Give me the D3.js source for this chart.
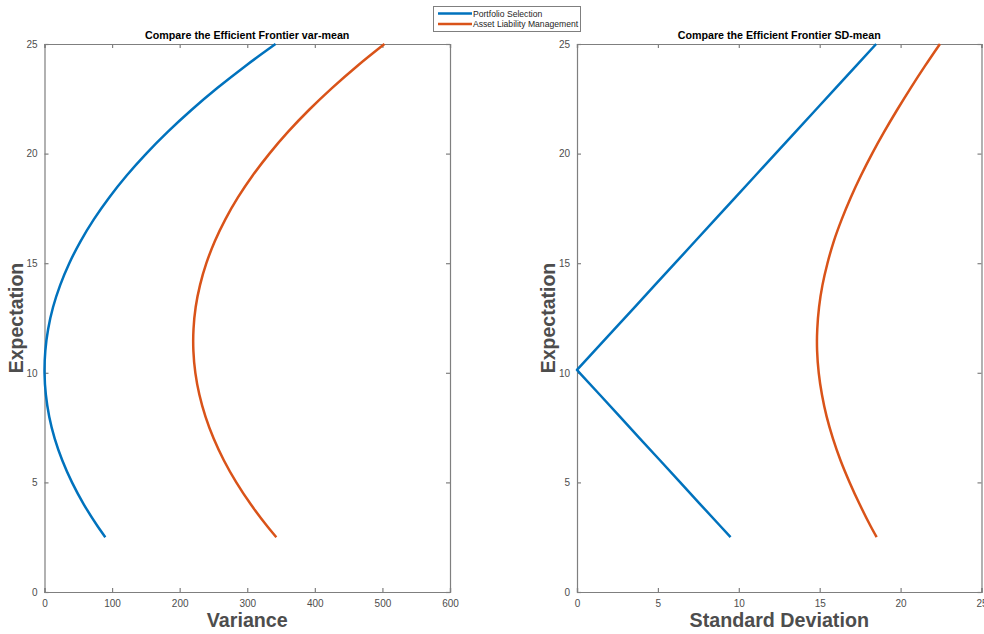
<!DOCTYPE html>
<html><head><meta charset="utf-8">
<script src="https://cdn.jsdelivr.net/npm/d3@7"></script>
<style>body{margin:0;background:#fff;} svg{display:block;font-family:"Liberation Sans",Arial,sans-serif;}</style>
</head><body>
<svg id="chart" width="984" height="634"></svg>
<script>
// Expected return values (y) at which the frontiers are read
const expectPS  = [2.5,3,4,5,6,7,8,9,10,10.13,11,12,13,14,15,16,17,18,19,20,21,22,23,24,25];
const expectALM = [2.5,3,4,5,6,7,8,9,10,11,11.44,12,13,14,15,16,17,18,19,20,21,22,23,24,25];
// Portfolio Selection
const varPS = [90.0,78.6,58.1,40.7,26.4,15.1,7.0,2.0,0.03,0,1.2,5.4,12.7,23.2,36.7,53.3,73.0,95.8,121.6,150.6,182.7,217.8,256.1,297.4,341.9];
const sdPS  = [9.49,8.87,7.62,6.38,5.14,3.89,2.65,1.41,0.16,0,1.08,2.33,3.57,4.81,6.06,7.30,8.54,9.79,11.03,12.27,13.52,14.76,16.00,17.25,18.49];
// Asset Liability Management
const varALM = [343.0,329.6,305.2,283.8,265.5,250.3,238.2,229.2,223.2,220.3,220.0,220.5,223.7,230.1,239.5,252.0,267.6,286.2,308.0,332.8,360.6,391.6,425.7,462.8,503.0];
const sdALM  = [18.52,18.15,17.47,16.85,16.29,15.82,15.43,15.14,14.94,14.84,14.83,14.85,14.96,15.17,15.48,15.87,16.36,16.92,17.55,18.24,18.99,19.79,20.63,21.51,22.43];

const seriesNames = ["Portfolio Selection","Asset Liability Management"];
const colors = ["#0072BD","#D95319"];
const yTicks = [0,5,10,15,20,25];
const xTicksVar = [0,100,200,300,400,500,600];
const xTicksSD = [0,5,10,15,20,25];

const svg = d3.select("#chart");
const axisColor = "#7f7f7f";
const labelColor = "#4d4d4d";
const plotTop = 44, plotBottom = 592;

function panel(opts){
  const g = svg.append("g");
  const x = d3.scaleLinear().domain(opts.xdom).range([opts.x0, opts.x1]);
  const y = d3.scaleLinear().domain([0,25]).range([plotBottom, plotTop]);
  const tl = 4;
  const ax = g.append("g").attr("transform",`translate(0,${plotBottom})`)
    .call(d3.axisBottom(x).tickValues(opts.xticks).tickSize(-tl).tickPadding(8).tickFormat(d3.format("d")));
  const axt = g.append("g").attr("transform",`translate(0,${plotTop})`)
    .call(d3.axisTop(x).tickValues(opts.xticks).tickSize(-tl).tickFormat(""));
  const ay = g.append("g").attr("transform",`translate(${opts.x0},0)`)
    .call(d3.axisLeft(y).tickValues(yTicks).tickSize(-tl).tickPadding(7).tickFormat(d3.format("d")));
  const ayr = g.append("g").attr("transform",`translate(${opts.x1},0)`)
    .call(d3.axisRight(y).tickValues(yTicks).tickSize(-tl).tickFormat(""));
  [ax,axt,ay,ayr].forEach(a=>{
    a.select(".domain").attr("stroke",axisColor).attr("stroke-width",1.2);
    a.selectAll(".tick line").attr("stroke",axisColor).attr("stroke-width",1.2);
    a.selectAll(".tick text").attr("fill",labelColor).attr("font-size",10).attr("font-family","Liberation Sans, Arial, sans-serif");
  });
  opts.series.forEach((s,i)=>{
    const line = d3.line().x(d=>x(d[0])).y(d=>y(d[1])).curve(s.curve);
    g.append("path").datum(s.x.map((v,k)=>[v,s.y[k]]))
      .attr("d",line).attr("fill","none").attr("stroke",colors[i]).attr("stroke-width",2.5)
      .attr("stroke-linejoin","round");
  });
  g.append("text").attr("x",(opts.x0+opts.x1)/2).attr("y",39).attr("text-anchor","middle")
    .attr("font-size",10.7).attr("font-weight","bold").attr("fill","#000").text(opts.title);
  g.append("text").attr("x",(opts.x0+opts.x1)/2).attr("y",627).attr("text-anchor","middle")
    .attr("font-size",19.7).attr("font-weight","bold").attr("fill",labelColor).text(opts.xlabel);
  g.append("text").attr("transform",`translate(${opts.x0-22},${(plotTop+plotBottom)/2}) rotate(-90)`)
    .attr("text-anchor","middle").attr("font-size",19.5).attr("font-weight","bold").attr("fill",labelColor).text("Expectation");
}

panel({x0:44.5,x1:450,xdom:[0,600],xticks:xTicksVar,title:"Compare the Efficient Frontier var-mean",xlabel:"Variance",
  series:[{x:varPS,y:expectPS,curve:d3.curveMonotoneY},{x:varALM,y:expectALM,curve:d3.curveMonotoneY}]});
panel({x0:577,x1:981.5,xdom:[0,25],xticks:xTicksSD,title:"Compare the Efficient Frontier SD-mean",xlabel:"Standard Deviation",
  series:[{x:sdPS,y:expectPS,curve:d3.curveLinear},{x:sdALM,y:expectALM,curve:d3.curveMonotoneY}]});

const lg = svg.append("g");
lg.append("rect").attr("x",433.5).attr("y",6.5).attr("width",147).attr("height",25).attr("fill","#fff").attr("stroke","#7f7f7f").attr("stroke-width",1);
seriesNames.forEach((n,i)=>{
  const yy = 13.5 + i*10.5;
  lg.append("line").attr("x1",438).attr("x2",472).attr("y1",yy).attr("y2",yy).attr("stroke",colors[i]).attr("stroke-width",2.5);
  lg.append("text").attr("x",473).attr("y",yy+3).attr("font-size",8.6).attr("fill","#262626").text(n);
});
</script>
</body></html>
